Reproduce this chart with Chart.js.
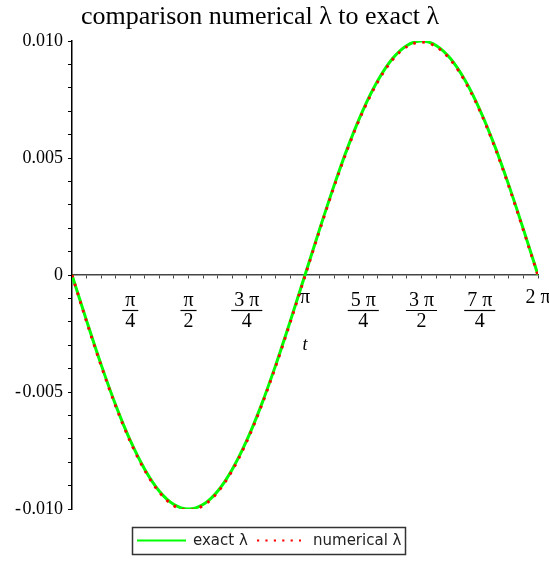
<!DOCTYPE html>
<html>
<head>
<meta charset="utf-8">
<script src="https://cdn.jsdelivr.net/npm/chart.js@4.4.1/dist/chart.umd.min.js"></script>
<style>
    html, body { margin: 0; padding: 0; background: #fff; }
    #wrap { width: 549px; height: 561px; }
</style>
</head>
<body>
<div id="wrap"><canvas id="lambdaChart" width="549" height="561"></canvas></div>
<script>
// t values, every pi/16 from 0 to 2 pi
const tValues = [0, 0.19635, 0.3927, 0.58905, 0.7854, 0.98175, 1.1781, 1.37445, 1.5708,
    1.76715, 1.9635, 2.15985, 2.35619, 2.55254, 2.74889, 2.94524, 3.14159,
    3.33794, 3.53429, 3.73064, 3.92699, 4.12334, 4.31969, 4.51604, 4.71239,
    4.90874, 5.10509, 5.30144, 5.49779, 5.69414, 5.89049, 6.08684, 6.28319];

const exactLambda = [0, -0.00195, -0.00383, -0.00556, -0.00707, -0.00831, -0.00924, -0.00981, -0.01,
    -0.00981, -0.00924, -0.00831, -0.00707, -0.00556, -0.00383, -0.00195, 0,
    0.00195, 0.00383, 0.00556, 0.00707, 0.00831, 0.00924, 0.00981, 0.01,
    0.00981, 0.00924, 0.00831, 0.00707, 0.00556, 0.00383, 0.00195, 0];

const numericalLambda = [0, -0.002, -0.00388, -0.00561, -0.00712, -0.00836, -0.00929, -0.00986, -0.01005,
    -0.00986, -0.00929, -0.00836, -0.00712, -0.00561, -0.00388, -0.002, -0.00005,
    0.0019, 0.00378, 0.00551, 0.00702, 0.00826, 0.00919, 0.00976, 0.00995,
    0.00976, 0.00919, 0.00826, 0.00702, 0.00551, 0.00378, 0.0019, -0.00003];

// x tick labels at multiples of pi/4 (numerator / denominator)
const xTickValues = [0.7854, 1.5708, 2.35619, 3.14159, 3.92699, 4.71239, 5.49779, 6.28319];
const xTickNum = ["π", "π", "3 π", "π", "5 π", "3 π", "7 π", "2 π"];
const xTickDen = ["4", "2", "4", "", "4", "2", "4", ""];

const yTickValues = [-0.01, -0.005, 0, 0.005, 0.01];
const yTickLabels = ["-\u200A0.010", "-\u200A0.005", "0", "0.005", "0.010"];

const chartTitle = "comparison numerical λ to exact λ";
const xAxisTitle = "t";

const serif = "'Liberation Serif', 'Times New Roman', serif";

const titlePlugin = {
    id: "mapleTitle",
    afterDraw(chart) {
        const ctx = chart.ctx;
        ctx.save();
        ctx.font = "26px " + serif;
        ctx.fillStyle = "#000";
        ctx.textAlign = "center";
        ctx.textBaseline = "alphabetic";
        ctx.fillText(chartTitle, 260, 24);
        ctx.restore();
    }
};

const fractionTicks = {
    id: "fractionTicks",
    afterDraw(chart) {
        const ctx = chart.ctx;
        const xs = chart.scales.x;
        const y0 = chart.scales.y.getPixelForValue(0);
        ctx.save();
        ctx.fillStyle = "#000";
        ctx.strokeStyle = "#000";
        ctx.textAlign = "center";
        ctx.textBaseline = "middle";
        ctx.font = "20px " + serif;
        xTickValues.forEach((v, i) => {
            const x = xs.getPixelForValue(v);
            if (xTickDen[i] === "") {
                ctx.fillText(xTickNum[i], x, y0 + 23);
            } else {
                const w = ctx.measureText(xTickNum[i]).width + 6;
                ctx.fillText(xTickNum[i], x, y0 + 26);
                ctx.lineWidth = 1.2;
                ctx.beginPath();
                ctx.moveTo(x - w / 2, y0 + 35.5);
                ctx.lineTo(x + w / 2, y0 + 35.5);
                ctx.stroke();
                ctx.fillText(xTickDen[i], x, y0 + 47);
            }
        });
        ctx.font = "italic 18px " + serif;
        ctx.fillText(xAxisTitle, xs.getPixelForValue(Math.PI), y0 + 70);
        ctx.restore();
    }
};

const boxLegend = {
    id: "boxLegend",
    afterDraw(chart) {
        const ctx = chart.ctx;
        const sets = chart.data.datasets;
        ctx.save();
        ctx.strokeStyle = "#333";
        ctx.lineWidth = 1.5;
        ctx.strokeRect(132.5, 527.5, 273, 27);
        ctx.font = "15px 'DejaVu Sans', sans-serif";
        ctx.textBaseline = "middle";
        ctx.fillStyle = "#222";
        const y = 541;
        // exact
        ctx.strokeStyle = sets[1].borderColor;
        ctx.lineWidth = 2;
        ctx.beginPath();
        ctx.moveTo(137, y - 0.5);
        ctx.lineTo(186, y - 0.5);
        ctx.stroke();
        ctx.fillText(sets[1].label, 193, y);
        // numerical
        ctx.strokeStyle = sets[0].borderColor;
        ctx.setLineDash([2.2, 6.2]);
        ctx.lineWidth = 2.2;
        ctx.beginPath();
        ctx.moveTo(257, y - 0.5);
        ctx.lineTo(301, y - 0.5);
        ctx.stroke();
        ctx.setLineDash([]);
        ctx.fillText(sets[0].label, 313, y);
        ctx.restore();
    }
};

const lambdaChart = new Chart(document.getElementById("lambdaChart").getContext("2d"), {
    type: "line",
    data: {
        labels: tValues,
        datasets: [
            {
                label: "numerical λ",
                data: tValues.map((t, i) => ({x: t, y: numericalLambda[i]})),
                borderColor: "#ff0000",
                borderWidth: 2.8,
                borderDash: [2.6, 6.5],
                pointRadius: 0,
                tension: 0.4,
                cubicInterpolationMode: "monotone",
                order: 0
            },
            {
                label: "exact λ",
                data: tValues.map((t, i) => ({x: t, y: exactLambda[i]})),
                borderColor: "#00ff00",
                borderWidth: 3,
                pointRadius: 0,
                tension: 0.4,
                cubicInterpolationMode: "monotone",
                order: 1
            }
        ]
    },
    options: {
        responsive: false,
        animation: false,
        events: [],
        layout: {padding: {left: 0, top: 41, right: 11, bottom: 52}},
        plugins: {
            legend: {display: false},
            title: {display: false},
            tooltip: {enabled: false}
        },
        scales: {
            x: {
                type: "linear",
                min: 0,
                max: 6.28319,
                position: {y: 0},
                afterBuildTicks: (scale) => {
                    scale.ticks = tValues.map(v => ({value: v}));
                },
                ticks: {display: false},
                grid: {display: true, drawOnChartArea: false, drawTicks: true, tickLength: 3, color: "#444"},
                border: {display: true, color: "#444", width: 1.5}
            },
            y: {
                type: "linear",
                min: -0.01,
                max: 0.01,
                afterFit: (scale) => { scale.width = 72; },
                afterBuildTicks: (scale) => {
                    const t = [];
                    for (let k = -10; k <= 10; k++) t.push({value: k / 1000});
                    scale.ticks = t;
                },
                ticks: {
                    autoSkip: false,
                    padding: 5,
                    color: "#000",
                    font: {family: serif, size: 18},
                    callback: (v) => {
                        const i = yTickValues.findIndex(y => Math.abs(y - v) < 1e-7);
                        return i >= 0 ? yTickLabels[i] : "";
                    }
                },
                grid: {display: true, drawOnChartArea: false, drawTicks: true, tickLength: 4, color: "#000"},
                border: {display: true, color: "#000", width: 1.5}
            }
        }
    },
    plugins: [titlePlugin, fractionTicks, boxLegend]
});
</script>
</body>
</html>
